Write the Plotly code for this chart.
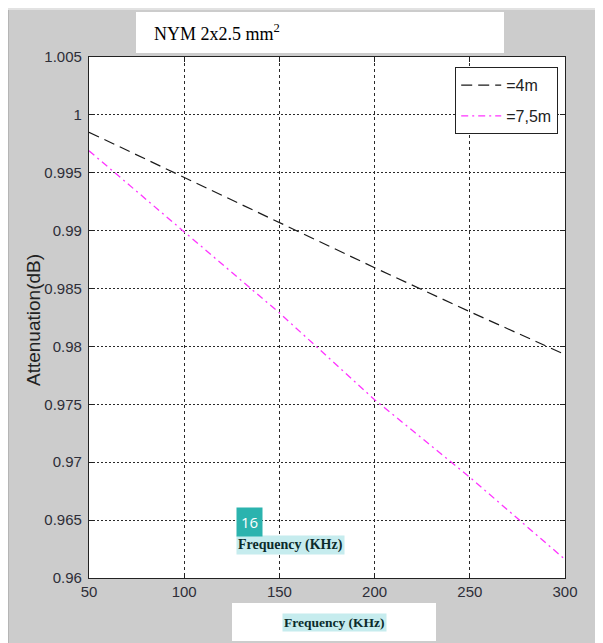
import plotly.graph_objects as go

# ---- data ----
freq_khz = [50, 100, 150, 200, 250, 300]
att_4m = [0.9985, 0.9946, 0.9907, 0.9868, 0.9830, 0.9793]
att_75m = [0.9969, 0.9899, 0.9829, 0.9754, 0.9687, 0.9616]
series_names = ["=4m", "=7,5m"]
x_ticks = [50, 100, 150, 200, 250, 300]
y_ticks = [0.96, 0.965, 0.97, 0.975, 0.98, 0.985, 0.99, 0.995, 1.0, 1.005]
y_ticktext = ["0.96", "0.965", "0.97", "0.975", "0.98", "0.985", "0.99", "0.995", "1", "1.005"]
title_text = "NYM 2x2.5 mm<sup>2</sup>"
xlabel_text = "<b>Frequency (KHz)</b>"
ylabel_text = "Attenuation(dB)"
badge_text = "16"

# ---- geometry (page pixels; the page body has an 8px margin) ----
PAGE_W, PAGE_H = 603, 643
OFF = 8
W, H = PAGE_W - OFF, PAGE_H - OFF
L, R, T, B = 89, 565, 57, 578


def px_x(p):
    return (p - L) / (R - L)


def px_y(p):
    return (B - p) / (B - T)


GRAY = "#cccccc"
SANS = "Liberation Sans, Arial, sans-serif"
SERIF = "Liberation Serif, Times New Roman, serif"

fig = go.Figure()
fig.add_trace(go.Scatter(
    x=freq_khz, y=att_4m, mode="lines", name=series_names[0], legendgroup="a",
    line=dict(color="#1a1a1a", width=1.2, dash="11px,6px"),
))
fig.add_trace(go.Scatter(
    x=freq_khz, y=att_75m, mode="lines", name=series_names[1], legendgroup="b",
    line=dict(color="#ff33ff", width=1.3, dash="7px,4px,2px,4px"),
))

shapes = [
    dict(type="line", xref="paper", yref="paper", x0=px_x(8.5), x1=px_x(8.5), y0=px_y(PAGE_H), y1=px_y(8),
         line=dict(color="#b5b5b5", width=1), layer="below"),
    dict(type="line", xref="paper", yref="paper", x0=px_x(8), x1=px_x(PAGE_W), y0=px_y(9), y1=px_y(9),
         line=dict(color="#e2e2e2", width=2), layer="below"),
    # title box
    dict(type="rect", xref="paper", yref="paper", x0=px_x(136), x1=px_x(504), y0=px_y(53), y1=px_y(12),
         fillcolor="white", line=dict(width=0), layer="below"),
    # bottom label box
    dict(type="rect", xref="paper", yref="paper", x0=px_x(232), x1=px_x(436), y0=px_y(641), y1=px_y(603),
         fillcolor="white", line=dict(width=0), layer="below"),
]

annotations = [
    dict(text=title_text, xref="paper", yref="paper", x=px_x(152), y=px_y(32),
         xanchor="left", yanchor="middle", showarrow=False,
         font=dict(family=SERIF, size=18, color="black")),
    dict(text=xlabel_text, xref="paper", yref="paper", x=px_x(334), y=px_y(622),
         xanchor="center", yanchor="middle", showarrow=False, bgcolor="#c6ecee", borderpad=1,
         font=dict(family=SERIF, size=13.5, color="#0b2b2b")),
    dict(text=xlabel_text, xref="paper", yref="paper", x=px_x(290), y=px_y(545),
         xanchor="center", yanchor="middle", showarrow=False, bgcolor="#c6ecee", borderpad=1,
         font=dict(family=SERIF, size=14, color="#0b2b2b")),
    dict(text=badge_text, xref="paper", yref="paper", x=px_x(249.5), y=px_y(522),
         xanchor="center", yanchor="middle", showarrow=False, bgcolor="#2bb3ae", borderpad=4,
         font=dict(family="Open Sans, sans-serif", size=15, color="white")),
    dict(text=ylabel_text, xref="paper", yref="paper", x=px_x(33), y=px_y(320),
         xanchor="center", yanchor="middle", showarrow=False, textangle=-90,
         font=dict(family=SANS, size=19, color="#222222")),
]

axis_common = dict(
    showline=True, linecolor="#222222", linewidth=1.2, mirror="ticks",
    ticks="inside", ticklen=5, tickcolor="#222222", tickwidth=1,
    showgrid=True, gridcolor="#2a2a2a", gridwidth=1.4, zeroline=False,
    tickfont=dict(family=SANS, size=15, color="#2e2e38"),
)

fig.update_layout(
    width=W, height=H,
    margin=dict(l=L - OFF, r=PAGE_W - R, t=T - OFF, b=PAGE_H - B, pad=0),
    paper_bgcolor=GRAY, plot_bgcolor="white",
    showlegend=True,
    legend=dict(
        x=px_x(455), y=px_y(67), xanchor="left", yanchor="top",
        bgcolor="white", bordercolor="#222222", borderwidth=1.2,
        font=dict(family=SANS, size=16, color="#222222"),
        tracegroupgap=7, itemwidth=40,
    ),
    xaxis=dict(range=[50, 300], tickvals=x_ticks, griddash="3px,3px", **axis_common),
    yaxis=dict(range=[0.96, 1.005], tickvals=y_ticks, ticktext=y_ticktext, griddash="2px,2px",
               ticklabelstandoff=3, **axis_common),
    shapes=shapes,
    annotations=annotations,
)

fig.write_html("out.html")
